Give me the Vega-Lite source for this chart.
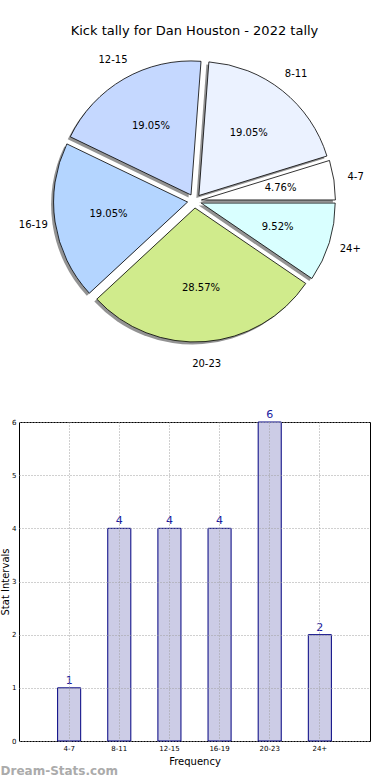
{
  "$schema": "https://vega.github.io/schema/vega-lite/v6.json",
  "padding": {"top": 25, "left": 0, "right": 0, "bottom": 0},
  "background": "white",
  "config": {
    "font": "DejaVu Sans",
    "view": {"stroke": "#000000", "strokeWidth": 1},
    "axis": {"labelColor": "#000", "titleColor": "#000", "labelFont": "DejaVu Sans", "titleFont": "DejaVu Sans"}
  },
  "data": {
    "values": [
      {"range": "4-7", "count": 1, "pct": "4.76%", "idx": 1},
      {"range": "8-11", "count": 4, "pct": "19.05%", "idx": 2},
      {"range": "12-15", "count": 4, "pct": "19.05%", "idx": 3},
      {"range": "16-19", "count": 4, "pct": "19.05%", "idx": 4},
      {"range": "20-23", "count": 6, "pct": "28.57%", "idx": 5},
      {"range": "24+", "count": 2, "pct": "9.52%", "idx": 6}
    ]
  },
  "spacing": 39,
  "vconcat": [
    {
      "width": 351,
      "height": 318,
      "title": {"text": "Kick tally for Dan Houston - 2022 tally", "fontSize": 13, "fontWeight": "normal", "font": "DejaVu Sans", "offset": 4, "color": "#000"},
      "view": {"stroke": null},
      "encoding": {
        "theta": {"field": "count", "type": "quantitative", "stack": true, "scale": {"range": [1.5708, 7.854]}},
        "order": {"field": "idx", "sort": "descending"}
      },
      "layer": [
        {
          "mark": {"type": "arc", "outerRadius": 134, "fill": "#3a3a3a", "opacity": 0.55,
            "xOffset": {"expr": "7*sin(PI/2 + PI*(datum.count_start + datum.count_end)/21) - 2.5"},
            "yOffset": {"expr": "-7*cos(PI/2 + PI*(datum.count_start + datum.count_end)/21) + 2.5"}}
        },
        {
          "mark": {"type": "arc", "outerRadius": 134, "stroke": "#000000", "strokeWidth": 0.8,
            "xOffset": {"expr": "7*sin(PI/2 + PI*(datum.count_start + datum.count_end)/21)"},
            "yOffset": {"expr": "-7*cos(PI/2 + PI*(datum.count_start + datum.count_end)/21)"}},
          "encoding": {
            "color": {"field": "range", "type": "nominal", "legend": null,
              "scale": {"domain": ["4-7", "8-11", "12-15", "16-19", "20-23", "24+"],
                "range": ["#ffffff", "#ebf2ff", "#c5d8ff", "#b4d5ff", "#d0eb8c", "#d9ffff"]}}
          }
        },
        {
          "mark": {"type": "text", "radius": 87, "fontSize": 10, "font": "DejaVu Sans", "color": "#000"},
          "encoding": {"text": {"field": "pct", "type": "nominal"}}
        },
        {
          "mark": {"type": "text", "radius": 163, "fontSize": 10, "font": "DejaVu Sans", "color": "#000"},
          "encoding": {"text": {"field": "range", "type": "nominal"}}
        }
      ]
    },
    {
      "width": 351,
      "height": 319,
      "title": {"text": "Dream-Stats.com", "orient": "bottom", "anchor": "start", "fontSize": 12, "fontWeight": "bold", "color": "#ababab", "offset": 0},
      "encoding": {
        "x": {"field": "range", "type": "nominal", "sort": ["4-7", "8-11", "12-15", "16-19", "20-23", "24+"],
          "scale": {"paddingInner": 0.54, "paddingOuter": 0.77},
          "axis": {"title": "Frequency", "titleFontSize": 10, "titleFontWeight": "normal", "titlePadding": 5,
            "labelFontSize": 7, "labelAngle": 0, "labelPadding": 3, "grid": true, "gridDash": [1, 2], "gridColor": "#a0a0a0",
            "bandPosition": 0.5, "domain": false, "ticks": false, "zindex": 1}},
        "y": {"field": "count", "type": "quantitative", "scale": {"domain": [0, 6]},
          "axis": {"title": "Stat Intervals", "titleFontSize": 10, "titleFontWeight": "normal", "titlePadding": 1,
            "labelFontSize": 7, "labelPadding": 3, "values": [0, 1, 2, 3, 4, 5, 6], "grid": true, "gridDash": [1, 2], "gridColor": "#a0a0a0",
            "domain": false, "ticks": false, "zindex": 1}}
      },
      "layer": [
        {"mark": {"type": "bar", "fill": "#ccccE6", "stroke": "#000080", "strokeWidth": 1}},
        {"mark": {"type": "text", "dy": -7, "color": "#1a1aa0", "fontSize": 11, "font": "DejaVu Sans"},
          "encoding": {"text": {"field": "count", "type": "quantitative"}}}
      ]
    }
  ]
}
